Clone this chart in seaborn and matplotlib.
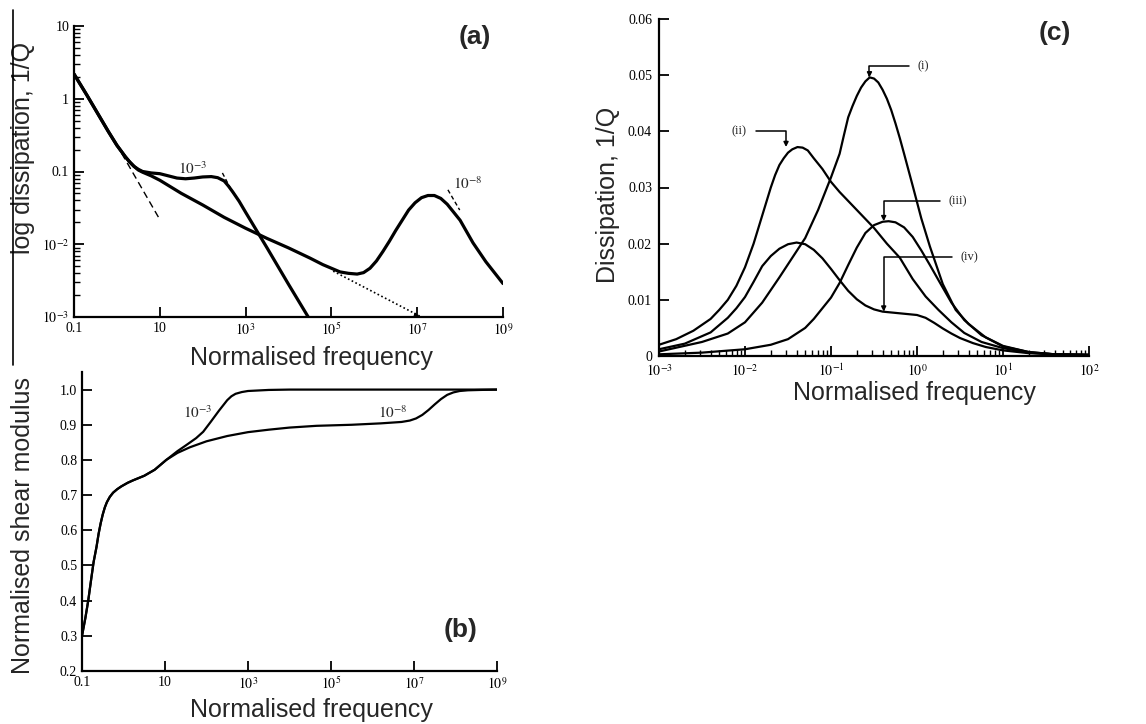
import numpy as np
import pandas as pd
import matplotlib
matplotlib.use("Agg")
import matplotlib.pyplot as plt
import seaborn as sns
from matplotlib.ticker import LogLocator, NullLocator, FixedLocator, FixedFormatter, NullFormatter
from matplotlib.lines import Line2D

# ---------------- Panel (a): log dissipation vs normalised frequency (log10 values) ----------------
a_lf_1e3 = [-1.0, -0.7, -0.4, -0.2, 0.0, 0.1, 0.2, 0.3, 0.4, 0.5, 0.6, 0.8, 1.0, 1.2, 1.4, 1.6, 1.8, 2.0,
            2.2, 2.35, 2.5, 2.6, 2.7, 2.85, 3.0, 3.5, 4.0, 4.46]
a_lq_1e3 = [0.34, 0.05, -0.25, -0.45, -0.64, -0.72, -0.80, -0.87, -0.93, -0.97, -1.0, -1.02, -1.03, -1.06, -1.09, -1.10, -1.09, -1.075,
            -1.07, -1.085, -1.13, -1.20, -1.28, -1.41, -1.56, -2.05, -2.55, -3.0]
a_lf_1e8 = [-1.0, -0.7, -0.4, -0.2, 0.0, 0.1, 0.2, 0.3, 0.4, 0.5, 0.6, 0.8, 1.0, 1.5, 2.0, 2.5, 3.0, 3.5, 4.0, 4.5,
            4.8, 5.0, 5.2, 5.4, 5.6, 5.75, 5.9, 6.05, 6.2, 6.35, 6.5, 6.65, 6.8, 6.95, 7.1, 7.25, 7.4, 7.55,
            7.7, 7.85, 8.0, 8.3, 8.6, 9.0]
a_lq_1e8 = [0.34, 0.05, -0.25, -0.45, -0.64, -0.72, -0.80, -0.87, -0.93, -0.98, -1.01, -1.06, -1.12, -1.30, -1.46, -1.63, -1.78, -1.92, -2.05, -2.19,
            -2.28, -2.33, -2.38, -2.40, -2.41, -2.39, -2.33, -2.23, -2.10, -1.96, -1.81, -1.67, -1.53, -1.43, -1.36, -1.33, -1.33, -1.37,
            -1.45, -1.56, -1.67, -1.98, -2.24, -2.54]
a_tan_low_f = [1.29, 9.77]
a_tan_low_q = [0.178, 0.0224]
a_tan_1e3_f = [288, 513]
a_tan_1e3_q = [0.0955, 0.050]
a_tan_1e8_f = [5.2e7, 9.8e7]
a_tan_1e8_q = [0.056, 0.0295]
a_dot_f = [1.1e5, 1.26e7]
a_dot_q = [0.00427, 0.00100]
a_xticks = [0.1, 10, 1e3, 1e5, 1e7, 1e9]
a_xticklabels = ["0.1", "10", r"$10^{3}$", r"$10^{5}$", r"$10^{7}$", r"$10^{9}$"]
a_yticks = [1e-3, 1e-2, 0.1, 1, 10]
a_yticklabels = [r"$10^{-3}$", r"$10^{-2}$", "0.1", "1", "10"]

# ---------------- Panel (b): normalised shear modulus ----------------
b_lf_common = [-1.0, -0.92, -0.85, -0.78, -0.72, -0.65, -0.6, -0.55, -0.5, -0.45, -0.4, -0.33, -0.25, -0.15,
               -0.05, 0.1, 0.23, 0.5, 0.75, 1.03]
b_g_common = [0.30, 0.35, 0.40, 0.46, 0.51, 0.553, 0.59, 0.62, 0.645, 0.665, 0.68, 0.695, 0.707, 0.717,
              0.725, 0.735, 0.742, 0.755, 0.772, 0.80]
b_lf_1e3 = b_lf_common + [1.3, 1.51, 1.75, 1.92, 2.1, 2.3, 2.5, 2.6, 2.7, 2.85, 3.0, 3.5, 4.0, 6.0, 9.0]
b_g_1e3 = b_g_common + [0.825, 0.842, 0.862, 0.88, 0.908, 0.940, 0.970, 0.981, 0.988, 0.993, 0.996, 0.999, 1.0, 1.0, 1.0]
b_lf_1e8 = b_lf_common + [1.3, 1.6, 2.0, 2.5, 3.0, 3.5, 4.0, 4.65, 5.5, 6.2, 6.7, 6.9, 7.05, 7.2, 7.35, 7.5,
                          7.65, 7.8, 7.95, 8.1, 8.3, 8.6, 9.0]
b_g_1e8 = b_g_common + [0.82, 0.836, 0.853, 0.868, 0.879, 0.886, 0.892, 0.897, 0.900, 0.904, 0.908, 0.912, 0.918, 0.928, 0.942, 0.958,
                        0.973, 0.985, 0.992, 0.996, 0.998, 0.999, 1.0]
b_xticks = [0.1, 10, 1e3, 1e5, 1e7, 1e9]
b_xticklabels = ["0.1", "10", r"$10^{3}$", r"$10^{5}$", r"$10^{7}$", r"$10^{9}$"]
b_yticks = [0.2, 0.3, 0.4, 0.5, 0.6, 0.7, 0.8, 0.9, 1.0]

# ---------------- Panel (c): dissipation peaks (i)-(iv) ----------------
c_lf_i = [-3.0, -2.5, -2.2, -2.0, -1.8, -1.6, -1.45, -1.3, -1.15, -1.0, -0.9, -0.85, -0.8, -0.75, -0.7, -0.65,
          -0.6, -0.55, -0.5, -0.45, -0.4, -0.35, -0.3, -0.25, -0.2, -0.15, -0.05, 0.05, 0.15, 0.3, 0.45,
          0.6, 0.8, 1.0, 1.3, 1.6, 2.0]
c_q_i = [0.0008, 0.0025, 0.0040, 0.0060, 0.0095, 0.0140, 0.0175, 0.0210, 0.0260, 0.0318, 0.0360, 0.0393, 0.0425, 0.0445, 0.0463, 0.0478,
         0.0489, 0.0496, 0.0494, 0.0487, 0.0474, 0.0458, 0.0438, 0.0414, 0.0388, 0.0360, 0.0303, 0.0245, 0.0195, 0.0128, 0.0082,
         0.0057, 0.0033, 0.0017, 0.0007, 0.0003, 0.0002]
c_lf_ii = [-3.0, -2.8, -2.6, -2.4, -2.3, -2.2, -2.1, -2.0, -1.9, -1.8, -1.7, -1.65, -1.6, -1.55, -1.5, -1.45,
           -1.39, -1.33, -1.27, -1.2, -1.1, -1.0, -0.9, -0.8, -0.65, -0.5, -0.35, -0.2, -0.05, 0.1, 0.25,
           0.4, 0.55, 0.75, 1.0, 1.3, 1.6, 2.0]
c_q_ii = [0.0020, 0.0030, 0.0045, 0.0066, 0.0082, 0.0100, 0.0125, 0.0158, 0.0200, 0.0250, 0.0300, 0.0322, 0.0340, 0.0352, 0.0362, 0.0368,
          0.0372, 0.0371, 0.0366, 0.0352, 0.0333, 0.0310, 0.0292, 0.0276, 0.0252, 0.0228, 0.0200, 0.0175, 0.0137, 0.0106, 0.0082,
          0.0060, 0.0041, 0.0025, 0.0014, 0.0006, 0.0003, 0.0002]
c_lf_iii = [-3.0, -2.5, -2.0, -1.7, -1.5, -1.3, -1.2, -1.1, -1.0, -0.9, -0.8, -0.7, -0.6, -0.5, -0.4, -0.33,
            -0.25, -0.15, -0.05, 0.05, 0.15, 0.25, 0.4, 0.55, 0.75, 1.0, 1.3, 1.6, 2.0]
c_q_iii = [0.0003, 0.0006, 0.0012, 0.0020, 0.0030, 0.0050, 0.0066, 0.0085, 0.0104, 0.0130, 0.0162, 0.0193, 0.0219, 0.0233, 0.0239, 0.0240,
           0.0238, 0.0229, 0.0212, 0.0188, 0.0162, 0.0135, 0.0095, 0.0064, 0.0037, 0.0018, 0.0007, 0.0003, 0.0002]
c_lf_iv = [-3.0, -2.7, -2.4, -2.2, -2.1, -2.0, -1.9, -1.8, -1.7, -1.6, -1.5, -1.4, -1.3, -1.2, -1.1, -1.0,
           -0.9, -0.8, -0.7, -0.6, -0.5, -0.4, -0.2, 0.0, 0.1, 0.2, 0.3, 0.4, 0.5, 0.65, 0.8, 1.0, 1.3, 1.6, 2.0]
c_q_iv = [0.0012, 0.0022, 0.0042, 0.0068, 0.0085, 0.0105, 0.0132, 0.0160, 0.0178, 0.0191, 0.0199, 0.0202, 0.0199, 0.0189, 0.0174, 0.0155,
          0.0135, 0.0116, 0.0101, 0.0090, 0.0083, 0.0079, 0.0076, 0.0073, 0.0068, 0.0059, 0.0049, 0.0040, 0.0032, 0.0023, 0.0016, 0.0010,
          0.0005, 0.0003, 0.0002]
c_labels = ["(i)", "(ii)", "(iii)", "(iv)"]
c_arrow_tip_f = [0.28, 0.030, 0.41, 0.41]
c_arrow_tip_q = [0.0496, 0.0372, 0.0240, 0.0079]
c_label_f = [1.02, 0.0105, 2.35, 3.2]
c_label_q = [0.0516, 0.0400, 0.0276, 0.0176]
c_xticks = [1e-3, 1e-2, 1e-1, 1, 10, 100]
c_xticklabels = [r"$10^{-3}$", r"$10^{-2}$", r"$10^{-1}$", r"$10^{0}$", r"$10^{1}$", r"$10^{2}$"]
c_yticks = [0, 0.01, 0.02, 0.03, 0.04, 0.05, 0.06]
c_yticklabels = ["0", "0.01", "0.02", "0.03", "0.04", "0.05", "0.06"]

# ---------------- Styling ----------------
sns.set_style("ticks")
plt.rcParams["font.family"] = ["Liberation Sans", "DejaVu Sans"]
plt.rcParams["mathtext.fontset"] = "stix"
SERIF = ["Liberation Serif", "DejaVu Serif"]
LABEL_FS = 18
TICK_FS = 10

fig = plt.figure(figsize=(11.46, 7.24), dpi=100)
W, H = 1146, 724


def add_ax(left, top, right, bottom):
    return fig.add_axes([left / W, 1 - bottom / H, (right - left) / W, (bottom - top) / H])


def line(ax, f, y, **kw):
    df = pd.DataFrame({"f": f, "y": y})
    sns.lineplot(data=df, x="f", y="y", ax=ax, estimator=None, sort=False, color="black",
                 solid_joinstyle="round", solid_capstyle="round", **kw)


def style_ax(ax):
    sns.despine(ax=ax)
    for s in ["left", "bottom"]:
        ax.spines[s].set_linewidth(1.6)
        ax.spines[s].set_color("black")
    ax.tick_params(which="major", direction="in", length=7, width=1.3, colors="black", labelsize=TICK_FS)
    ax.tick_params(which="minor", direction="in", length=4, width=1.0, colors="black")
    for lab in ax.get_xticklabels() + ax.get_yticklabels():
        lab.set_family(SERIF)


# ---- (a)
axa = add_ax(74, 26, 503, 317)
line(axa, 10 ** np.array(a_lf_1e3), 10 ** np.array(a_lq_1e3), lw=2.3)
line(axa, 10 ** np.array(a_lf_1e8), 10 ** np.array(a_lq_1e8), lw=2.3)
line(axa, a_tan_low_f, a_tan_low_q, lw=1.0, linestyle=(0, (5, 3)))
line(axa, a_tan_1e3_f, a_tan_1e3_q, lw=1.0, linestyle=(0, (3, 2)))
line(axa, a_tan_1e8_f, a_tan_1e8_q, lw=1.0, linestyle=(0, (3, 2)))
line(axa, a_dot_f, a_dot_q, lw=1.2, linestyle=(0, (1, 1.5)))
axa.annotate("", xy=(a_dot_f[1], a_dot_q[1]), xytext=(a_dot_f[1] * 0.6, a_dot_q[1] * 1.1),
             arrowprops=dict(arrowstyle="-|>", color="black", lw=0.8, mutation_scale=6))
axa.set_xscale("log")
axa.set_yscale("log")
axa.set_xlim(0.1, 1e9)
axa.set_ylim(1e-3, 10)
axa.xaxis.set_major_locator(FixedLocator(a_xticks))
axa.xaxis.set_major_formatter(FixedFormatter(a_xticklabels))
axa.xaxis.set_minor_locator(NullLocator())
axa.yaxis.set_major_locator(FixedLocator(a_yticks))
axa.yaxis.set_major_formatter(FixedFormatter(a_yticklabels))
axa.yaxis.set_minor_locator(LogLocator(base=10, subs=np.arange(2, 10), numticks=20))
axa.yaxis.set_minor_formatter(NullFormatter())
style_ax(axa)
axa.set_xlabel("Normalised frequency", fontsize=LABEL_FS, va="center")
axa.xaxis.set_label_coords(0.554, -0.14)
axa.set_ylabel("log dissipation, 1/Q", fontsize=LABEL_FS, va="center")
axa.yaxis.set_label_coords(-0.119, 0.58)
axa.text(60, 0.108, r"$10^{-3}$", fontsize=11, ha="center", va="center")
axa.text(1.5e8, 0.068, r"$10^{-8}$", fontsize=11, ha="center", va="center")
axa.text(0.935, 0.962, "(a)", transform=axa.transAxes, fontsize=19, fontweight="bold", ha="center", va="center")

# ---- (b)
axb = add_ax(82, 372, 497, 671)
line(axb, 10 ** np.array(b_lf_1e3), b_g_1e3, lw=1.6)
line(axb, 10 ** np.array(b_lf_1e8), b_g_1e8, lw=1.6)
axb.set_xscale("log")
axb.set_xlim(0.1, 1e9)
axb.set_ylim(0.2, 1.05)
axb.xaxis.set_major_locator(FixedLocator(b_xticks))
axb.xaxis.set_major_formatter(FixedFormatter(b_xticklabels))
axb.xaxis.set_minor_locator(NullLocator())
axb.yaxis.set_major_locator(FixedLocator(b_yticks))
axb.yaxis.set_major_formatter(FixedFormatter([f"{v:.1f}" for v in b_yticks]))
style_ax(axb)
axb.set_xlabel("Normalised frequency", fontsize=LABEL_FS, va="center")
axb.xaxis.set_label_coords(0.552, -0.130)
axb.set_ylabel("Normalised shear modulus", fontsize=LABEL_FS, va="center")
axb.yaxis.set_label_coords(-0.142, 0.487)
axb.text(60, 0.935, r"$10^{-3}$", fontsize=11, ha="center", va="center")
axb.text(3e6, 0.935, r"$10^{-8}$", fontsize=11, ha="center", va="center")
axb.text(0.911, 0.137, "(b)", transform=axb.transAxes, fontsize=19, fontweight="bold", ha="center", va="center")

# ---- (c)
axc = add_ax(659, 19, 1089, 356)
for lf, q in [(c_lf_i, c_q_i), (c_lf_ii, c_q_ii), (c_lf_iii, c_q_iii), (c_lf_iv, c_q_iv)]:
    line(axc, 10 ** np.array(lf), q, lw=1.6)
axc.set_xscale("log")
axc.set_xlim(1e-3, 1e2)
axc.set_ylim(0, 0.06)
for lab, tf, tq, lf_, lq in zip(c_labels, c_arrow_tip_f, c_arrow_tip_q, c_label_f, c_label_q):
    ha = "right" if lf_ < tf else "left"
    axc.annotate(lab, xy=(tf, tq), xytext=(lf_, lq), fontsize=9, family=SERIF, ha=ha, va="center",
                 arrowprops=dict(arrowstyle="-|>", color="black", lw=1.1, mutation_scale=7,
                                 shrinkA=4, shrinkB=0,
                                 connectionstyle="angle,angleA=0,angleB=90,rad=0"))
axc.xaxis.set_major_locator(FixedLocator(c_xticks))
axc.xaxis.set_major_formatter(FixedFormatter(c_xticklabels))
axc.xaxis.set_minor_locator(LogLocator(base=10, subs=np.arange(2, 10), numticks=20))
axc.xaxis.set_minor_formatter(NullFormatter())
axc.yaxis.set_major_locator(FixedLocator(c_yticks))
axc.yaxis.set_major_formatter(FixedFormatter(c_yticklabels))
style_ax(axc)
axc.tick_params(axis="x", which="major", pad=5)
axc.tick_params(axis="y", which="major", pad=5)
axc.set_xlabel("Normalised frequency", fontsize=LABEL_FS, va="center")
axc.xaxis.set_label_coords(0.595, -0.110)
axc.set_ylabel("Dissipation, 1/Q", fontsize=LABEL_FS, va="center")
axc.yaxis.set_label_coords(-0.119, 0.478)
axc.text(0.921, 0.958, "(c)", transform=axc.transAxes, fontsize=19, fontweight="bold", ha="center", va="center")

# thin vertical border line at the far left of the original image
fig.add_artist(Line2D([13 / W, 13 / W], [1 - 10 / H, 1 - 365 / H], color="black", lw=1.2))

fig.savefig("out.png", dpi=100)
